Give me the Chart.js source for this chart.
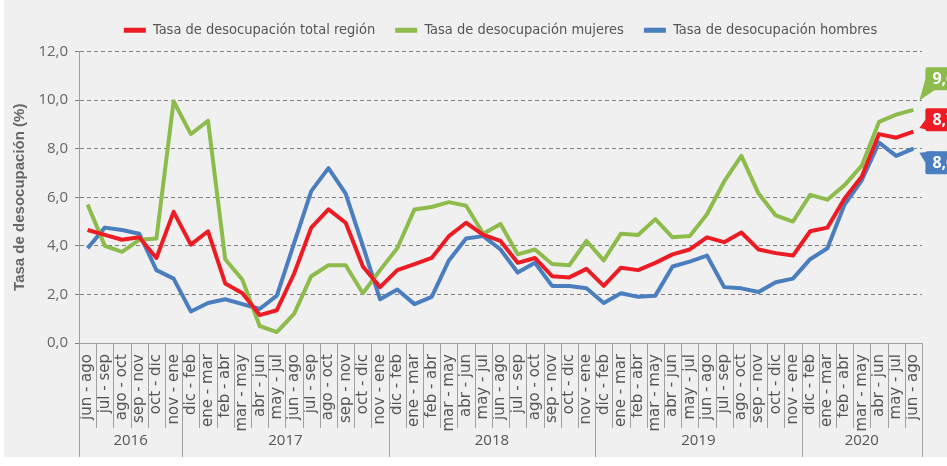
<!DOCTYPE html>
<html>
<head>
<meta charset="utf-8">
<script src="https://cdn.jsdelivr.net/npm/chart.js@4.4.1/dist/chart.umd.min.js"></script>
<style>
  html, body { margin: 0; padding: 0; background: #ffffff; }
  #wrap { width: 947px; height: 466px; position: relative; }
</style>
</head>
<body>
<div id="wrap"><canvas id="chart_desocupacion"></canvas></div>
<script>
// rolling quarters, jun-ago 2016 .. jun-ago 2020
var categories = [
  'jun - ago', 'jul - sep', 'ago - oct', 'sep - nov', 'oct - dic', 'nov - ene',
  'dic - feb', 'ene - mar', 'feb - abr', 'mar - may', 'abr - jun', 'may - jul',
  'jun - ago', 'jul - sep', 'ago - oct', 'sep - nov', 'oct - dic', 'nov - ene',
  'dic - feb', 'ene - mar', 'feb - abr', 'mar - may', 'abr - jun', 'may - jul',
  'jun - ago', 'jul - sep', 'ago - oct', 'sep - nov', 'oct - dic', 'nov - ene',
  'dic - feb', 'ene - mar', 'feb - abr', 'mar - may', 'abr - jun', 'may - jul',
  'jun - ago', 'jul - sep', 'ago - oct', 'sep - nov', 'oct - dic', 'nov - ene',
  'dic - feb', 'ene - mar', 'feb - abr', 'mar - may', 'abr - jun', 'may - jul',
  'jun - ago'
];
var years = ['2016', '2017', '2018', '2019', '2020'];
var yearSpans = [6, 12, 12, 12, 7];

var totalRegion = [
  4.65, 4.45, 4.25, 4.35, 3.5, 5.4,
  4.05, 4.6, 2.45, 2.05, 1.15, 1.35, 2.85, 4.75, 5.5, 4.95, 3.15, 2.3,
  3.0, 3.25, 3.5, 4.4, 4.95, 4.45, 4.2, 3.3, 3.5, 2.75, 2.7, 3.05,
  2.35, 3.1, 3.0, 3.3, 3.65, 3.85, 4.35, 4.15, 4.55, 3.85, 3.7, 3.6,
  4.6, 4.75, 5.95, 6.85, 8.6, 8.45, 8.7
];
var mujeres = [
  5.7, 4.0, 3.75, 4.25, 4.3, 9.95,
  8.6, 9.15, 3.45, 2.6, 0.7, 0.45, 1.2, 2.75, 3.2, 3.2, 2.05, 3.0,
  3.9, 5.5, 5.6, 5.8, 5.65, 4.5, 4.9, 3.65, 3.85, 3.25, 3.2, 4.2,
  3.4, 4.5, 4.45, 5.1, 4.35, 4.4, 5.3, 6.65, 7.7, 6.15, 5.25, 5.0,
  6.1, 5.9, 6.5, 7.3, 9.1, 9.4, 9.6
];
var hombres = [
  3.9, 4.75, 4.65, 4.5, 3.0, 2.65,
  1.3, 1.65, 1.8, 1.6, 1.4, 1.95, 4.1, 6.25, 7.2, 6.15, 4.0, 1.8,
  2.2, 1.6, 1.9, 3.4, 4.3, 4.4, 3.85, 2.9, 3.3, 2.35, 2.35, 2.25,
  1.65, 2.05, 1.9, 1.95, 3.15, 3.35, 3.6, 2.3, 2.25, 2.1, 2.5, 2.65,
  3.45, 3.9, 5.7, 6.7, 8.25, 7.7, 8.0
];

var seriesNames = [
  'Tasa de desocupación total región',
  'Tasa de desocupación mujeres',
  'Tasa de desocupación hombres'
];
var seriesColors = ['#ED1C24', '#8DBB4C', '#4A7EBF'];
var calloutDy = [-12, -31, 14];   // end label offset from last point

function fmt(v) {
  return v.toFixed(1).replace('.', ',');
}

var bgPlugin = {
  id: 'grayBackground',
  beforeDraw: function (chart) {
    var ctx = chart.ctx;
    ctx.save();
    ctx.fillStyle = '#f0f0f0';
    ctx.fillRect(4, 0, chart.width - 4, 457);
    ctx.restore();
  },
  afterLayout: function (chart) {
    // nudge legend row a little higher than the layout puts it
    chart.legend.top -= 4;
  }
};

var groupAxisPlugin = {
  id: 'yearGroups',
  afterDraw: function (chart) {
    var ctx = chart.ctx;
    var x = chart.scales.x;
    var bottom = chart.chartArea.bottom;
    var half = (x.getPixelForValue(1) - x.getPixelForValue(0)) / 2;
    ctx.save();
    ctx.strokeStyle = '#a0a0a0';
    ctx.lineWidth = 1;
    ctx.beginPath();
    for (var i = 0; i <= categories.length; i++) {
      var px = (i < categories.length ? x.getPixelForValue(i) - half : x.getPixelForValue(i - 1) + half);
      px = Math.round(px) + 0.5;
      ctx.moveTo(px, bottom);
      ctx.lineTo(px, bottom + 85);
    }
    ctx.stroke();

    ctx.font = '15px "Open Sans"';
    ctx.fillStyle = '#555555';
    ctx.textAlign = 'center';
    ctx.textBaseline = 'middle';
    var start = 0;
    ctx.beginPath();
    years.forEach(function (yr, k) {
      var x0 = x.getPixelForValue(start) - half;
      var x1 = x.getPixelForValue(start + yearSpans[k] - 1) + half;
      ctx.moveTo(Math.round(x0) + 0.5, bottom);
      ctx.lineTo(Math.round(x0) + 0.5, bottom + 114);
      if (k === years.length - 1) {
        ctx.moveTo(Math.round(x1) + 0.5, bottom);
        ctx.lineTo(Math.round(x1) + 0.5, bottom + 114);
      }
      ctx.fillText(yr, (x0 + x1) / 2, bottom + 98);
      start += yearSpans[k];
    });
    ctx.stroke();
    ctx.restore();
  }
};

var endLabelPlugin = {
  id: 'endLabels',
  afterDatasetsDraw: function (chart) {
    var ctx = chart.ctx;
    ctx.save();
    chart.data.datasets.forEach(function (ds, i) {
      var meta = chart.getDatasetMeta(i);
      var pt = meta.data[meta.data.length - 1];
      var val = ds.data[ds.data.length - 1];
      var bh = 23, bw = 40;
      var cy = pt.y + calloutDy[i];
      var bx = pt.x + 12, by = cy - bh / 2;
      var tipX = pt.x + 6, tipY = pt.y + calloutDy[i] * 0.3;
      ctx.fillStyle = seriesColors[i];
      ctx.beginPath();
      ctx.moveTo(tipX, tipY);
      ctx.lineTo(bx, cy);
      ctx.lineTo(bx + 9, tipY > cy ? by + bh : by);
      ctx.closePath();
      ctx.fill();
      ctx.beginPath();
      ctx.roundRect(bx, by, bw, bh, 2);
      ctx.fill();
      ctx.fillStyle = '#ffffff';
      ctx.font = 'bold 16px "Open Sans"';
      ctx.textAlign = 'left';
      ctx.textBaseline = 'middle';
      ctx.fillText(fmt(val), bx + 7, cy + 1);
    });
    ctx.restore();
  }
};

function makeSeries(label, data, color) {
  return {
    label: label,
    data: data,
    borderColor: color,
    backgroundColor: color,
    borderWidth: 4,
    pointRadius: 0,
    pointHoverRadius: 0,
    tension: 0,
    fill: false,
    borderJoinStyle: 'round'
  };
}

var chart_desocupacion = new Chart(document.getElementById('chart_desocupacion'), {
  type: 'line',
  data: {
    labels: categories,
    datasets: [
      makeSeries(seriesNames[0], totalRegion, seriesColors[0]),
      makeSeries(seriesNames[1], mujeres, seriesColors[1]),
      makeSeries(seriesNames[2], hombres, seriesColors[2])
    ]
  },
  options: {
    animation: false,
    responsive: true,
    maintainAspectRatio: false,
    layout: {
      padding: { top: 7, right: 25, left: 0, bottom: 0 }
    },
    plugins: {
      legend: {
        position: 'top',
        fullSize: false,
        labels: {
          boxWidth: 22,
          boxHeight: 5,
          padding: 20,
          color: '#555555',
          font: { family: '"DejaVu Sans Condensed", sans-serif', size: 14.5 },
          generateLabels: function (chart) {
            var items = Chart.defaults.plugins.legend.labels.generateLabels(chart);
            items.forEach(function (it) { it.lineWidth = 0; });
            return items;
          }
        }
      },
      tooltip: { enabled: false }
    },
    scales: {
      x: {
        offset: true,
        grid: { display: false },
        border: { display: true, color: '#a0a0a0' },
        ticks: {
          autoSkip: false,
          minRotation: 90,
          maxRotation: 90,
          padding: 3,
          color: '#555555',
          font: { family: '"DejaVu Sans"', size: 15 }
        },
        afterFit: function (scale) { scale.height = 123; }
      },
      y: {
        min: 0,
        max: 12,
        ticks: {
          stepSize: 2,
          padding: 7,
          color: '#666666',
          font: { family: '"Open Sans"', size: 15 },
          callback: function (v) { return fmt(v); }
        },
        grid: { color: '#808080', tickLength: 4, lineWidth: 1 },
        border: { display: true, color: '#a0a0a0', dash: [4, 3] },
        title: {
          display: true,
          text: 'Tasa de desocupación (%)',
          color: '#666666',
          font: { family: '"Liberation Sans"', weight: 'bold', size: 15 },
          padding: { top: 11, bottom: 0 }
        },
        afterFit: function (scale) { scale.width = 79; }
      }
    }
  },
  plugins: [bgPlugin, groupAxisPlugin, endLabelPlugin]
});
</script>
</body>
</html>
